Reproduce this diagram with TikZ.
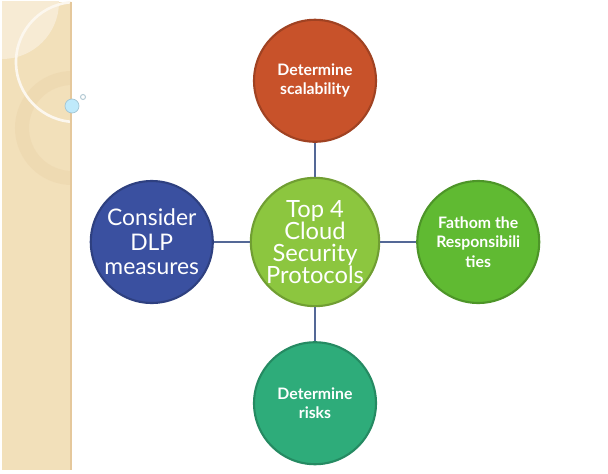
\documentclass[tikz,border=0pt]{standalone}
\usepackage{fontspec}
\setmainfont{Lato}
\usepackage{tikz}
\usetikzlibrary{positioning}
\definecolor{band}{RGB}{242,224,186}
\definecolor{bandlight}{RGB}{247,235,212}
\definecolor{scal}{RGB}{200,82,42}
\definecolor{core}{RGB}{140,198,63}
\definecolor{dlp}{RGB}{58,80,160}
\definecolor{resp}{RGB}{96,186,50}
\definecolor{risk}{RGB}{46,172,122}
\definecolor{link}{RGB}{84,104,150}

\begin{document}
\begin{tikzpicture}[
    x=0.02cm, y=-0.02cm,
    node distance = 0.68cm and 0.72cm,
    bubble/.style = {circle, minimum size=2.44cm, inner sep=0pt, align=center,
                     text=white, line width=1.2pt},
    link/.style = {draw=link, line width=0.6pt}
  ]
    \useasboundingbox (0,0) rectangle (608,473);

    % side band
    \begin{scope}
      \clip (2,2) rectangle (71,470);
      \fill[band] (2,2) rectangle (71,470);
      \fill[bandlight] (2,2) circle (57);
      \draw[band!80!brown, opacity=0.3, line width=8pt] (72,128) circle (50);
      \draw[white!75!band, line width=1.5pt] (76,62) circle (60);
    \end{scope}
    \draw[band!75!brown, line width=0.8pt] (71,2) -- (71,470);
    \fill[cyan!25, draw=cyan!40!gray!60] (72,106) circle (7);
    \draw[cyan!30!gray!50, line width=0.6pt] (83,97) circle (2.5);

    \node[bubble, fill=core, draw=core!80!black, font=\fontsize{13.5}{12.5}\selectfont] (c) at (315,242)
      {Top 4\\Cloud\\Security\\Protocols};

    \node[bubble, fill=scal, draw=scal!80!black, font=\small\bfseries, above=of c] (top)
      {Determine\\scalability};
    \node[bubble, fill=dlp, draw=dlp!80!black, font=\fontsize{13}{14}\selectfont, left=of c] (lft)
      {Consider\\DLP\\measures};
    \node[bubble, fill=resp, draw=resp!80!black, font=\small\bfseries, right=of c] (rgt)
      {Fathom the\\Responsibili\\ties};
    \node[bubble, fill=risk, draw=risk!80!black, font=\small\bfseries, below=of c] (bot)
      {Determine\\risks};

    \draw[link] (top) -- (c);
    \draw[link] (lft) -- (c);
    \draw[link] (c) -- (rgt);
    \draw[link] (c) -- (bot);
  \end{tikzpicture}
\end{document}
